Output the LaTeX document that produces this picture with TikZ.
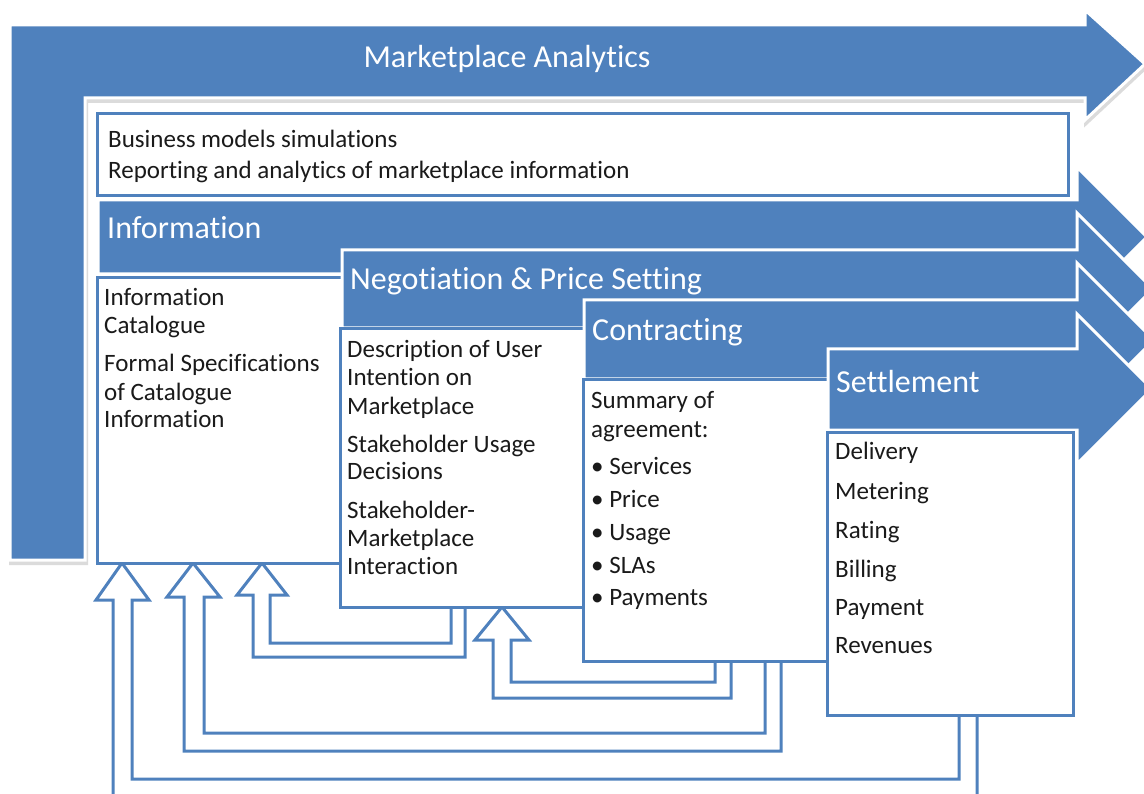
\documentclass[tikz,border=0pt]{standalone}
\usepackage{fontspec}
\setmainfont{Carlito}[Ligatures=NoCommon]
\definecolor{ob}{HTML}{4F81BD}
\definecolor{tx}{HTML}{1A1A1A}
\begin{document}
\begin{tikzpicture}[x=1pt,y=-1pt,
  blockarrow/.style={fill=ob, draw=white, line width=3pt, line join=miter},
  fb/.style={draw=ob, line width=3pt, line join=miter},
  wbox/.style={fill=white, draw=ob, line width=3pt},
  hd/.style={text=white, font=\fontsize{32}{38}\selectfont, anchor=base west, inner sep=0pt},
  bt/.style={text=tx, font=\fontsize{25}{30}\selectfont, anchor=base west, inner sep=0pt}]
\useasboundingbox (0,0) rectangle (1144,794);
\clip (0,0) rectangle (1144,794);
% big bent arrow with shadow
\draw[black!14, fill=black!14, line width=4pt, line join=miter, shift={(1,3)}]
  (10,25) -- (1085,25) -- (1085,10) -- (1145,64) -- (1085,120) -- (1085,98) -- (85,98) -- (85,560) -- (10,560) -- cycle;
\draw[blockarrow] (10,25) -- (1085,25) -- (1085,10) -- (1145,64) -- (1085,120) -- (1085,98) -- (85,98) -- (85,560) -- (10,560) -- cycle;
\node[hd, anchor=base] (ma) at (507,68) {Marketplace Analytics};
% business box
\draw[wbox] (97,114) rectangle (1068,196);
\node[bt] (b1) at (108,148) {Business models simulations};
\node[bt] (b2) at (108,179) {Reporting and analytics of marketplace information};
% feedback arrows
\draw[fb] (959,710) -- (959,779) -- (132,779) -- (132,600) -- (149,600) -- (122,563) -- (96,600) -- (113,600) -- (113,800) -- (977,800) -- (977,710);
\draw[fb] (765,655) -- (765,733) -- (204,733) -- (204,597) -- (220,597) -- (193,563) -- (167,597) -- (184,597) -- (184,751) -- (781,751) -- (781,655);
\draw[fb] (451,600) -- (451,643) -- (270,643) -- (270,595) -- (287,595) -- (262,563) -- (237,595) -- (253,595) -- (253,657) -- (465,657) -- (465,600);
\draw[fb] (715,655) -- (715,682) -- (511,682) -- (511,640) -- (529,640) -- (502,607) -- (475,640) -- (493,640) -- (493,698) -- (731,698) -- (731,655);
% Information
\draw[blockarrow] (98,200) -- (1077,200) -- (1077,167) -- (1147,237) -- (1077,307) -- (1077,274) -- (98,274) -- cycle;
\node[hd] (h1) at (107,239) {Information};
\draw[wbox] (97,278) rectangle (345,563);
\node[bt] (i1) at (104,306) {Information};
\node[bt] (i2) at (104,334) {Catalogue};
\node[bt] (i3) at (104,372) {Formal Specifications};
\node[bt] (i4) at (104,400) {of Catalogue};
\node[bt] (i5) at (104,428) {Information};
% Negotiation
\draw[blockarrow] (342,250) -- (1077,250) -- (1077,213) -- (1153,289) -- (1077,365) -- (1077,328) -- (342,328) -- cycle;
\node[hd] (h2) at (350,290) {Negotiation \& Price Setting};
\draw[wbox] (340,329) rectangle (590,607);
\node[bt] (n1) at (347,358) {Description of User};
\node[bt] (n2) at (347,386) {Intention on};
\node[bt] (n3) at (347,414) {Marketplace};
\node[bt] (n4) at (347,452) {Stakeholder Usage};
\node[bt] (n5) at (347,479) {Decisions};
\node[bt] (n6) at (347,518) {Stakeholder-};
\node[bt] (n7) at (347,546) {Marketplace};
\node[bt] (n8) at (347,574) {Interaction};
% Contracting
\draw[blockarrow] (584,300) -- (1077,300) -- (1077,263) -- (1154,340) -- (1077,417) -- (1077,379) -- (584,379) -- cycle;
\node[hd] (h3) at (592,341) {Contracting};
\draw[wbox] (583,380) rectangle (830,661);
\node[bt] (c1) at (591,409) {Summary of};
\node[bt] (c2) at (591,437) {agreement:};
\node[bt] (c3) at (591,475) {• Services};
\node[bt] (c4) at (591,507) {• Price};
\node[bt] (c5) at (591,540) {• Usage};
\node[bt] (c6) at (591,573) {• SLAs};
\node[bt] (c7) at (591,605) {• Payments};
% Settlement
\draw[blockarrow] (828,349) -- (1077,349) -- (1077,314) -- (1152,389) -- (1077,464) -- (1077,430) -- (828,430) -- cycle;
\node[hd] (h4) at (836,393) {Settlement};
\draw[wbox] (827,432) rectangle (1073,715);
\node[bt] (s1) at (835,460) {Delivery};
\node[bt] (s2) at (835,499) {Metering};
\node[bt] (s3) at (835,538) {Rating};
\node[bt] (s4) at (835,577) {Billing};
\node[bt] (s5) at (835,615) {Payment};
\node[bt] (s6) at (835,653) {Revenues};
\end{tikzpicture}
\end{document}
